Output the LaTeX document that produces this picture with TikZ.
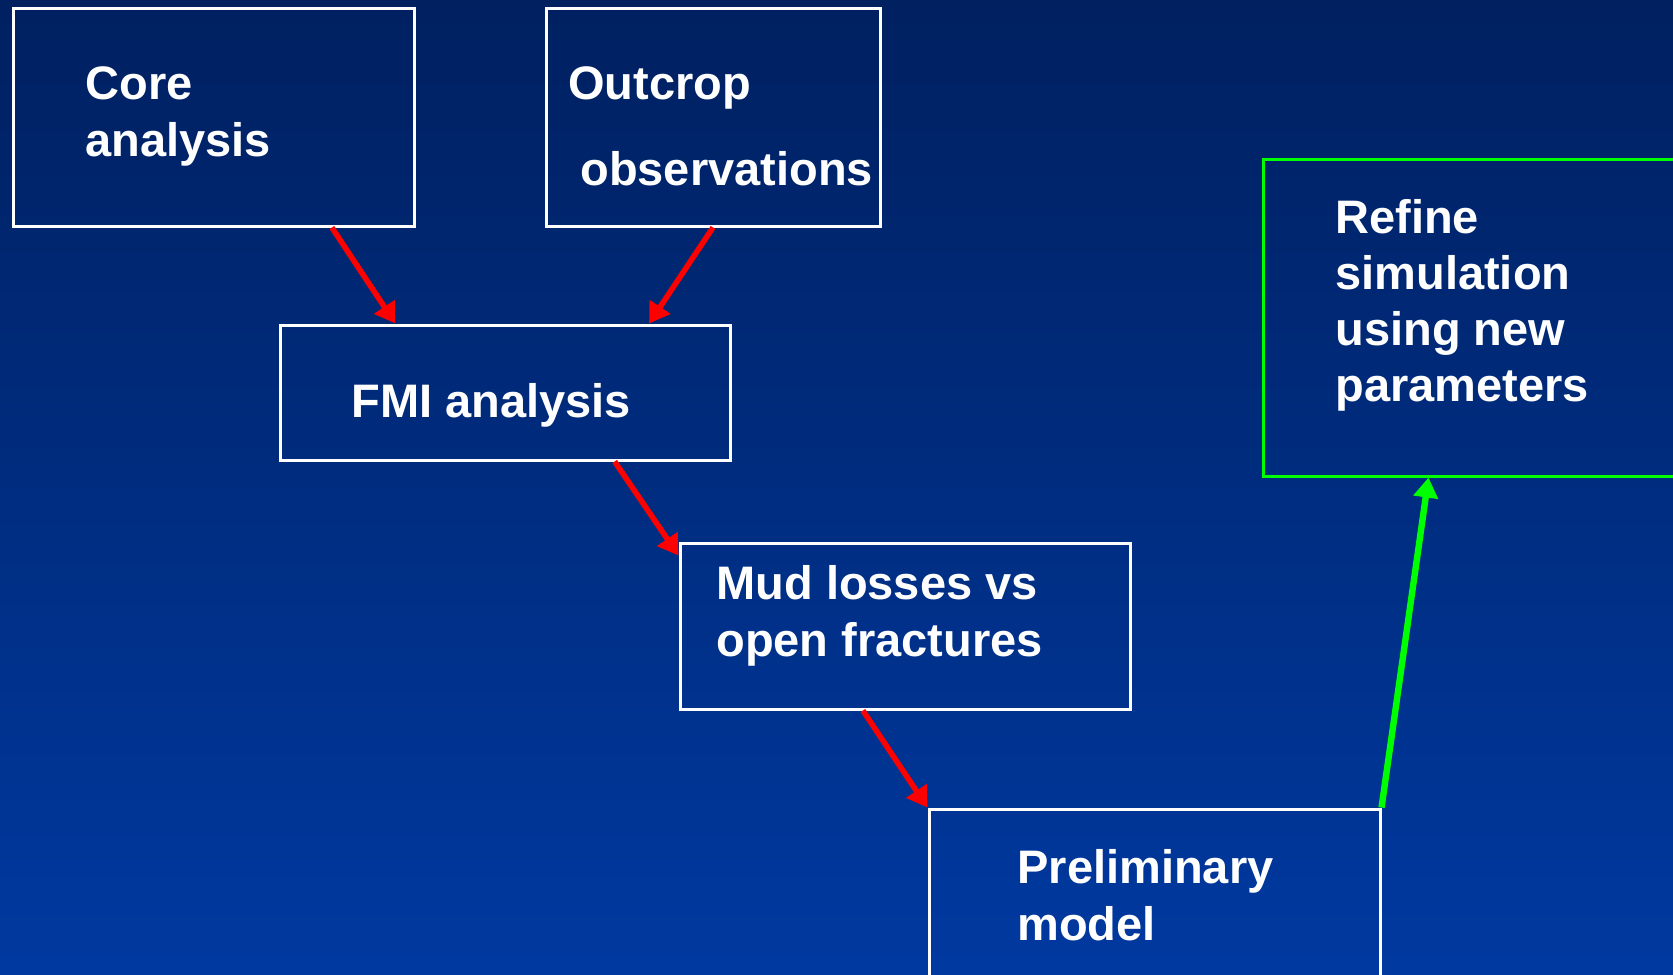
\documentclass[tikz,border=0pt]{standalone}
\usepackage{fontspec}
\setmainfont{Liberation Sans}
\usetikzlibrary{fit,calc,arrows.meta}
\definecolor{bgtop}{RGB}{0,32,96}
\definecolor{bgbot}{RGB}{0,57,160}
\definecolor{arrred}{RGB}{255,0,0}
\definecolor{arrgreen}{RGB}{0,255,0}
\tikzset{
  box/.style={draw=white, line width=1.5pt, inner sep=0pt},
  gbox/.style={draw=arrgreen, line width=1.5pt, inner sep=0pt},
  txt/.style={anchor=base west, inner sep=0pt, text=white, font=\fontsize{23.5}{28}\selectfont\bfseries},
  rlink/.style={draw=arrred, line width=2.8pt, -{Triangle[length=10pt,width=12pt]}},
  glink/.style={draw=arrgreen, line width=3.2pt, -{Triangle[length=10pt,width=12pt]}}
}
\begin{document}
\begin{tikzpicture}[x=0.5pt,y=-0.5pt]
\useasboundingbox (0,0) rectangle (1673,974);
\clip (0,0) rectangle (1673,974);
\fill[top color=bgtop,bottom color=bgbot] (0,0) rectangle (1673,974);
% boxes
\node[box, fit={(13,8.5) (414,226)}] (core) {};
\node[box, fit={(546,8.5) (880,226)}] (out) {};
\node[box, fit={(280,325) (730,460)}] (fmi) {};
\node[box, fit={(680,543) (1130,709)}] (mud) {};
\node[box, fit={(929,809) (1380,1000)}] (prelim) {};
\node[gbox, fit={(1263,159) (1700,476)}] (refine) {};
% texts
\node[txt] (core1) at (85,99.5) {Core};
\node[txt] (core2) at (85,156) {analysis};
\node[txt] (out1) at (568,99.5) {Outcrop};
\node[txt] (out2) at (580,185) {observations};
\node[txt] (fmi1) at (351,417) {FMI analysis};
\node[txt] (mud1) at (716,599) {Mud losses vs};
\node[txt] (mud2) at (716,656) {open fractures};
\node[txt] (pre1) at (1017,883) {Preliminary};
\node[txt] (pre2) at (1017,940) {model};
\node[txt] (ref1) at (1335,233) {Refine};
\node[txt] (ref2) at (1335,289) {simulation};
\node[txt] (ref3) at (1335,345) {using new};
\node[txt] (ref4) at (1335,401) {parameters};
% connectors
\draw[rlink] ($(core.south west)!0.793!(core.south east)$) -- ($(fmi.north west)!0.258!(fmi.north east)$);
\draw[rlink] (out.south) -- ($(fmi.north west)!0.818!(fmi.north east)$);
\draw[rlink] ($(fmi.south west)!0.742!(fmi.south east)$) -- ($(mud.north west)+(0,14)$);
\draw[rlink] ($(mud.south west)!0.407!(mud.south east)$) -- (prelim.north west);
\draw[glink] (prelim.north east) -- ($(refine.south west)+(167,0)$);
\end{tikzpicture}
\end{document}
